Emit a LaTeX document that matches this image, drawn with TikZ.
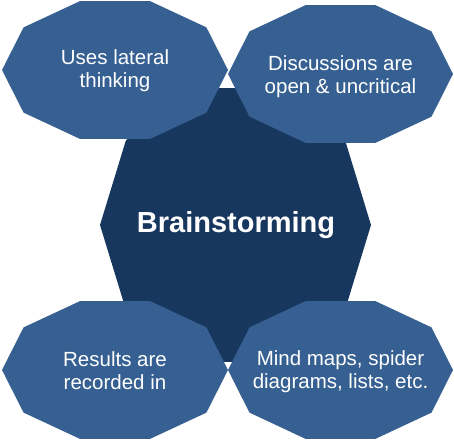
\documentclass[tikz,border=0pt]{standalone}
\usepackage{fontspec}
\setmainfont{Liberation Sans}
\definecolor{petal}{HTML}{376092}
\definecolor{core}{HTML}{18375E}
\newcommand\mydeca[5]{\fill[#5,shift={(#1,#2)}] (0:#3pt and #4pt) \foreach \a in {36,72,...,324}{-- (\a:#3pt and #4pt)} -- cycle;}
\begin{document}
\begin{tikzpicture}[x=1pt,y=-1pt,
  petaltext/.style={text=white,align=center,font=\fontsize{20.5}{23.5}\selectfont,inner sep=0pt},
  coretext/.style={text=white,align=center,font=\fontsize{29}{34}\selectfont\bfseries,inner sep=0pt}]
\useasboundingbox (0,0) rectangle (454,439);
\mydeca{235.5}{225}{135.5}{144}{core}
\mydeca{115}{70}{113}{72.5}{petal}
\mydeca{340.5}{74}{112.5}{72.5}{petal}
\mydeca{115}{370}{113}{72.5}{petal}
\mydeca{340.5}{370}{112.5}{72.5}{petal}
\node[coretext] (core) at (236,225) {Brainstorming};
\node[petaltext] (ul) at (115,70.5) {Uses lateral\\thinking};
\node[petaltext] (ur) at (340.5,76.5) {Discussions are\\open \& uncritical};
\node[petaltext] (ll) at (115,370.5) {Results are\\recorded in};
\node[petaltext] (lr) at (340.5,371.5) {Mind maps, spider\\diagrams, lists, etc.};
\end{tikzpicture}
\end{document}
